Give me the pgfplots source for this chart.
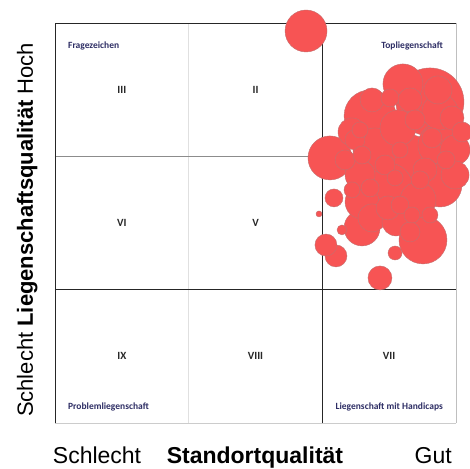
\documentclass[border=0pt]{standalone}
\usepackage{fontspec}
\setmainfont{Liberation Sans}
\newfontfamily\carlito{Carlito}
\usepackage{pgfplots}
\pgfplotsset{compat=1.18}
\usepackage{pgfplotstable}
\definecolor{bubble}{RGB}{247,84,84}
\definecolor{bedge}{RGB}{195,112,112}
\definecolor{navy}{RGB}{45,45,100}
\definecolor{numc}{RGB}{40,40,40}
\pgfplotstableread{
x y r
1.878 2.940 21
2.805 2.408 34
2.357 2.303 26
2.656 1.973 25
2.491 1.763 25
2.753 1.373 24
2.880 2.085 22
2.394 2.048 22
2.057 1.988 22
2.880 1.785 22
2.603 2.543 20
2.566 2.213 18
2.716 1.673 18
2.297 1.463 18
2.880 2.333 18
2.297 1.658 17
2.993 2.048 15
2.282 1.860 15
2.372 1.538 14
2.551 1.508 14
2.865 2.498 14
2.222 2.183 14
2.993 1.860 14
2.431 1.088 12
2.768 1.898 12
2.970 2.288 12
2.372 2.423 12
2.656 2.423 12
2.491 1.613 12
2.102 1.253 11
2.027 1.335 11
2.244 2.123 10
2.656 1.433 10
2.469 1.935 10
2.693 2.273 10
2.170 1.973 10
2.820 2.138 10
3.045 2.183 10
2.087 1.688 9
2.506 2.438 9
2.581 1.635 9
2.357 1.763 9
2.731 1.823 9
2.925 1.973 9
2.297 2.010 9
2.282 2.198 8
2.581 2.048 8
2.222 1.748 8
2.805 1.560 8
2.544 1.838 8
2.671 1.560 8
2.544 1.275 7
2.147 1.448 5
1.975 1.568 3
}\bubbles
\tikzset{numlab/.style={font=\carlito\bfseries\fontsize{11}{13}\selectfont, text=numc, inner sep=0pt},
  cornlab/.style={font=\carlito\bfseries\fontsize{9.5}{11}\selectfont, text=navy, inner sep=0pt}}
\begin{document}
\begin{tikzpicture}
\begin{axis}[
  at={(0,0)}, anchor=south west,
  scale only axis, width=401pt, height=400pt,
  xmin=0, xmax=3, ymin=0, ymax=3,
  hide axis, clip=false,
]
\addplot[scatter, only marks, mark=*,
  point meta=\thisrow{r},
  scatter/use mapped color={draw=bedge, fill=bubble},
  visualization depends on={\thisrow{r} \as \rr},
  scatter/@pre marker code/.append style={/tikz/mark size=\rr, /tikz/line width=0.5pt},
] table {\bubbles};
% grid
\draw[black!12, line width=0.6pt] (axis cs:1,0) -- (axis cs:1,3);
\draw[black!45, line width=0.6pt] (axis cs:0,2) -- (axis cs:3,2);
\draw[black!25, line width=0.6pt] (axis cs:3,0) -- (axis cs:3,3);
\draw[black!20, line width=0.6pt] (axis cs:0,0) -- (axis cs:3,0);
\draw[black!85, line width=0.9pt] (axis cs:2,0) -- (axis cs:2,3);
\draw[black!85, line width=0.9pt] (axis cs:0,1) -- (axis cs:3,1);
\draw[black!85, line width=0.9pt] (axis cs:0,0) -- (axis cs:0,3) -- (axis cs:3,3);
% numerals
\node[numlab] at (axis cs:0.5,2.5) {III};
\node[numlab] at (axis cs:1.5,2.5) {II};
\node[numlab] at (axis cs:2.5,2.5) {I};
\node[numlab] at (axis cs:0.5,1.5) {VI};
\node[numlab] at (axis cs:1.5,1.5) {V};
\node[numlab] at (axis cs:2.5,1.5) {IV};
\node[numlab] at (axis cs:0.5,0.5) {IX};
\node[numlab] at (axis cs:1.5,0.5) {VIII};
\node[numlab] at (axis cs:2.5,0.5) {VII};
\node[cornlab, anchor=west] at (axis cs:0.097,2.828) {Fragezeichen};
\node[cornlab, anchor=east] at (axis cs:2.903,2.828) {Topliegenschaft};
\node[cornlab, anchor=west] at (axis cs:0.097,0.12) {Problemliegenschaft};
\node[cornlab, anchor=east] at (axis cs:2.903,0.12) {Liegenschaft mit Handicaps};
% axis labels
\node[font=\fontsize{23}{27}\selectfont, anchor=base west, inner sep=0pt] at (axis cs:-0.017,-0.300) {Schlecht};
\node[font=\fontsize{23}{27}\selectfont\bfseries, anchor=base, inner sep=0pt] at (axis cs:1.496,-0.300) {Standortqualität};
\node[font=\fontsize{23}{27}\selectfont, anchor=base east, inner sep=0pt] at (axis cs:2.970,-0.300) {Gut};
\node[font=\fontsize{22}{26}\selectfont, anchor=base, rotate=90, inner sep=0pt] at (axis cs:-0.165,1.448) {Schlecht \textbf{Liegenschaftsqualität} Hoch};
\end{axis}
\pgfresetboundingbox
\path (-55pt,-45pt) rectangle (415pt,423pt);
\end{tikzpicture}
\end{document}
